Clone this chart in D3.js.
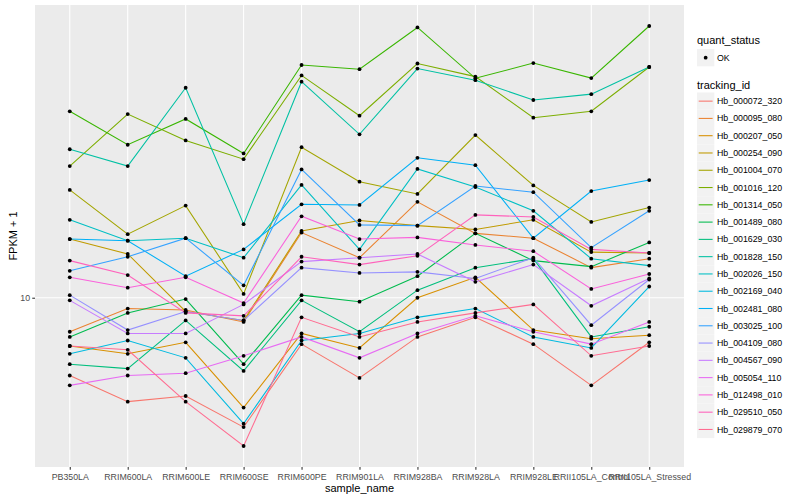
<!DOCTYPE html>
<html>
<head>
<meta charset="utf-8">
<script src="https://cdn.jsdelivr.net/npm/d3@7"></script>
<style>
  body { margin: 0; background: #fff; }
  text { font-family: "Liberation Sans", Arial, sans-serif; }
</style>
</head>
<body>
<script>
// samples on the x axis
let samples = ['PB350LA', 'RRIM600LA', 'RRIM600LE', 'RRIM600SE', 'RRIM600PE', 'RRIM901LA',
  'RRIM928BA', 'RRIM928LA', 'RRIM928LE', 'RRII105LA_Control', 'RRII105LA_Stressed']

let trackingIds = ['Hb_000072_320', 'Hb_000095_080', 'Hb_000207_050', 'Hb_000254_090', 'Hb_001004_070',
  'Hb_001016_120', 'Hb_001314_050', 'Hb_001489_080', 'Hb_001629_030', 'Hb_001828_150',
  'Hb_002026_150', 'Hb_002169_040', 'Hb_002481_080', 'Hb_003025_100', 'Hb_004109_080',
  'Hb_004567_090', 'Hb_005054_110', 'Hb_012498_010', 'Hb_029510_050', 'Hb_029879_070']

// FPKM + 1, one value per sample
let hb_000072_320 = [5.5, 4.5, 4.7, 3.7, 7.0, 5.4, 7.4, 8.6, 7.0, 5.1, 7.1]
let hb_000095_080 = [7.7, 9.2, 9.1, 8.3, 16.5, 13.6, 20.9, 16.4, 15.8, 12.6, 13.5]
let hb_000207_050 = [6.9, 6.5, 7.1, 4.3, 7.6, 6.8, 10.0, 11.7, 7.8, 7.3, 7.5]
let hb_000254_090 = [15.7, 14.0, 9.0, 8.4, 16.7, 18.1, 17.4, 16.9, 18.2, 14.2, 14.1]
let hb_001004_070 = [22.9, 16.3, 20.3, 10.3, 31.8, 24.4, 22.2, 34.9, 23.7, 17.9, 20.0]
let hb_001016_120 = [27.5, 41.0, 33.5, 29.0, 55.2, 40.5, 60.5, 54.7, 39.9, 41.9, 58.9]
let hb_001314_050 = [41.9, 32.4, 39.5, 30.3, 59.8, 57.9, 79.8, 54.0, 60.7, 54.1, 80.7]
let hb_001489_080 = [7.4, 8.9, 9.9, 6.0, 10.2, 9.7, 11.8, 16.4, 13.3, 12.7, 15.3]
let hb_001629_030 = [6.0, 5.8, 8.4, 5.7, 9.8, 7.7, 10.6, 12.6, 13.5, 7.4, 8.0]
let hb_001828_150 = [31.3, 27.5, 50.2, 17.6, 52.6, 35.1, 58.2, 53.2, 45.7, 47.8, 58.9]
let hb_002026_150 = [18.2, 15.5, 15.8, 13.6, 23.8, 14.5, 26.9, 23.4, 19.5, 13.5, 12.8]
let hb_002169_040 = [6.5, 7.2, 6.3, 3.8, 7.2, 7.6, 8.6, 9.2, 7.4, 6.8, 10.9]
let hb_002481_080 = [15.7, 15.5, 11.8, 14.5, 20.5, 20.4, 29.3, 27.7, 15.8, 22.7, 24.7]
let hb_003025_100 = [12.3, 13.7, 15.8, 11.0, 26.8, 17.5, 17.4, 23.6, 22.5, 14.7, 19.5]
let hb_004109_080 = [10.2, 7.8, 9.0, 8.4, 12.6, 12.1, 12.2, 11.6, 13.6, 8.1, 11.5]
let hb_004567_090 = [9.8, 7.6, 7.6, 9.5, 13.2, 13.6, 14.0, 11.3, 12.9, 9.4, 11.6]
let hb_005054_110 = [5.1, 5.5, 5.6, 6.4, 7.4, 6.3, 7.6, 8.7, 7.7, 7.0, 8.3]
let hb_012498_010 = [11.7, 10.8, 11.7, 9.6, 18.7, 15.7, 15.9, 15.0, 14.3, 10.7, 12.0]
let hb_029510_050 = [13.3, 11.9, 8.9, 8.7, 13.7, 12.9, 13.8, 18.9, 18.6, 14.5, 14.1]
let hb_029879_070 = [6.9, 6.7, 4.5, 3.2, 8.6, 7.4, 8.3, 8.9, 9.5, 6.4, 6.9]

let yTicks = [10]

let values = [hb_000072_320, hb_000095_080, hb_000207_050, hb_000254_090, hb_001004_070,
  hb_001016_120, hb_001314_050, hb_001489_080, hb_001629_030, hb_001828_150,
  hb_002026_150, hb_002169_040, hb_002481_080, hb_003025_100, hb_004109_080,
  hb_004567_090, hb_005054_110, hb_012498_010, hb_029510_050, hb_029879_070]

// ggplot default hue palette for 20 levels
let palette = ['#F8766D', '#EA8331', '#D89000', '#C09B00', '#A3A500', '#7CAE00', '#39B600', '#00BB4E',
  '#00BF7D', '#00C1A3', '#00BFC4', '#00BAE0', '#00B0F6', '#35A2FF', '#9590FF', '#C77CFF',
  '#E76BF3', '#FA62DB', '#FF62BC', '#FF6C91']

let width = 800, height = 500
let panel = { left: 35, right: 684, top: 5, bottom: 467 }

let svg = d3.select('body').append('svg')
  .attr('width', width)
  .attr('height', height)

svg.append('rect').attr('width', width).attr('height', height).attr('fill', '#fff')

let x = d3.scalePoint()
  .domain(samples)
  .range([panel.left, panel.right])
  .padding(0.6)

// log scale with ggplot's 5% expansion
let all = values.flat()
let lo = Math.log10(d3.min(all)), hi = Math.log10(d3.max(all))
let pad = (hi - lo) * 0.05
let y = d3.scaleLog()
  .domain([Math.pow(10, lo - pad), Math.pow(10, hi + pad)])
  .range([panel.bottom, panel.top])

// panel + grid
svg.append('rect')
  .attr('x', panel.left).attr('y', panel.top)
  .attr('width', panel.right - panel.left).attr('height', panel.bottom - panel.top)
  .attr('fill', '#EBEBEB')

svg.selectAll('.vgrid').data(samples).enter().append('line')
  .attr('x1', d => x(d)).attr('x2', d => x(d))
  .attr('y1', panel.top).attr('y2', panel.bottom)
  .attr('stroke', '#fff').attr('stroke-width', 1.07)

svg.selectAll('.hgrid').data(yTicks).enter().append('line')
  .attr('x1', panel.left).attr('x2', panel.right)
  .attr('y1', d => y(d)).attr('y2', d => y(d))
  .attr('stroke', '#fff').attr('stroke-width', 1.07)

// lines
let line = d3.line()
  .x((d, i) => x(samples[i]))
  .y(d => y(d))

values.forEach((vals, k) => {
  svg.append('path')
    .attr('d', line(vals))
    .attr('fill', 'none')
    .attr('stroke', palette[k])
    .attr('stroke-width', 1.07)
})

// points
values.forEach(vals => {
  svg.selectAll(null).data(vals).enter().append('circle')
    .attr('cx', (d, i) => x(samples[i]))
    .attr('cy', d => y(d))
    .attr('r', 1.9)
    .attr('fill', '#000')
})

// axes
let xAxis = svg.append('g')
  .attr('transform', 'translate(0,' + panel.bottom + ')')
  .call(d3.axisBottom(x).tickSizeInner(2.75).tickSizeOuter(0).tickPadding(4))
xAxis.select('.domain').remove()
xAxis.selectAll('line').attr('stroke', '#333333').attr('stroke-width', 1.07)
xAxis.selectAll('text').attr('fill', '#4D4D4D').style('font-size', '8.8px')
  .style('font-family', '"Liberation Sans", Arial, sans-serif')

let yAxis = svg.append('g')
  .attr('transform', 'translate(' + panel.left + ',0)')
  .call(d3.axisLeft(y).tickValues(yTicks).tickFormat(d3.format('d')).tickSizeInner(2.75).tickSizeOuter(0).tickPadding(2.2))
yAxis.select('.domain').remove()
yAxis.selectAll('line').attr('stroke', '#333333').attr('stroke-width', 1.07)
yAxis.selectAll('text').attr('fill', '#4D4D4D').style('font-size', '8.8px')
  .style('font-family', '"Liberation Sans", Arial, sans-serif')

svg.append('text')
  .attr('x', (panel.left + panel.right) / 2).attr('y', 492)
  .attr('text-anchor', 'middle')
  .style('font-size', '11px')
  .text('sample_name')

svg.append('text')
  .attr('transform', 'translate(17,' + (panel.top + panel.bottom) / 2 + ') rotate(-90)')
  .attr('text-anchor', 'middle')
  .style('font-size', '11px')
  .text('FPKM + 1')

// legends
let lx = 697
svg.append('text').attr('x', lx).attr('y', 44).style('font-size', '11px').text('quant_status')
svg.append('rect').attr('x', lx).attr('y', 49).attr('width', 17.3).attr('height', 17.3).attr('fill', '#F2F2F2')
svg.append('circle').attr('cx', lx + 8.65).attr('cy', 57.65).attr('r', 1.9).attr('fill', '#000')
svg.append('text').attr('x', lx + 20).attr('y', 57.65).attr('dy', '0.35em')
  .style('font-size', '8.8px').text('OK')

svg.append('text').attr('x', lx).attr('y', 89).style('font-size', '11px').text('tracking_id')

let key = svg.selectAll('.key').data(trackingIds).enter().append('g')
  .attr('transform', (d, i) => 'translate(' + lx + ',' + (92.5 + i * 17.28) + ')')
key.append('rect').attr('width', 17.3).attr('height', 17.28).attr('fill', '#F2F2F2')
key.append('line')
  .attr('x1', 1.7).attr('x2', 15.6).attr('y1', 8.64).attr('y2', 8.64)
  .attr('stroke', (d, i) => palette[i]).attr('stroke-width', 1.07)
key.append('text').attr('x', 20).attr('y', 8.64).attr('dy', '0.35em')
  .style('font-size', '8.8px').attr('fill', '#000').text(d => d)
</script>
</body>
</html>
